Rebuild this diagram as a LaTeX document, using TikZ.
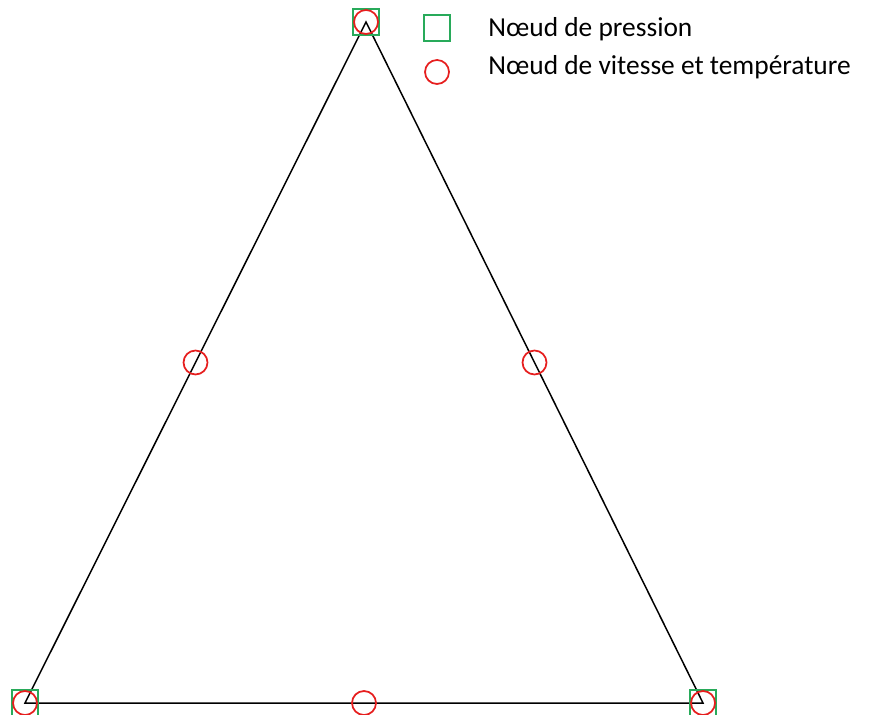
\documentclass[tikz,border=0pt]{standalone}
\usepackage{fontspec}
\setmainfont{Carlito}
\usepackage{xcolor}
\usetikzlibrary{positioning,calc}
\definecolor{presgreen}{RGB}{40,170,90}
\definecolor{velred}{RGB}{230,30,30}

\begin{document}
\begin{tikzpicture}[x=0.02cm,y=-0.02cm,
  pnode/.style={draw=presgreen,line width=1pt,minimum size=0.52cm,inner sep=0pt},
  vnode/.style={draw=velred,line width=1pt,circle,minimum size=0.48cm,inner sep=0pt},
  lab/.style={font=\fontsize{15.6}{18}\selectfont,anchor=base west,inner sep=0pt},
  edge/.style={black,line width=0.85pt}]
\useasboundingbox (0,0) rectangle (871,715);
% vertices of the element
\coordinate (A) at (366,22);
\coordinate (B) at (25,703);
\coordinate (C) at (703,703);
\draw[edge] (A) -- (B) -- (C) -- cycle;
% pressure nodes
\node[pnode] (pA) at (A) {};
\node[pnode] (pB) at (B) {};
\node[pnode] (pC) at (C) {};
% velocity and temperature nodes
\node[vnode] (vA) at (A) {};
\node[vnode] (vB) at (B) {};
\node[vnode] (vC) at (C) {};
\node[vnode] (vAB) at ($(A)!0.5!(B)$) {};
\node[vnode] (vAC) at ($(A)!0.5!(C)$) {};
\node[vnode] (vBC) at ($(B)!0.5!(C)$) {};
% legend
\node[pnode] (legP) at (437,28) {};
\node[vnode] (legV) at (437,72) {};
\node[lab] (txtP) at (488,36.5) {Nœud de pression};
\node[lab] (txtV) at (488,75) {Nœud de vitesse et température};
\end{tikzpicture}
\end{document}
